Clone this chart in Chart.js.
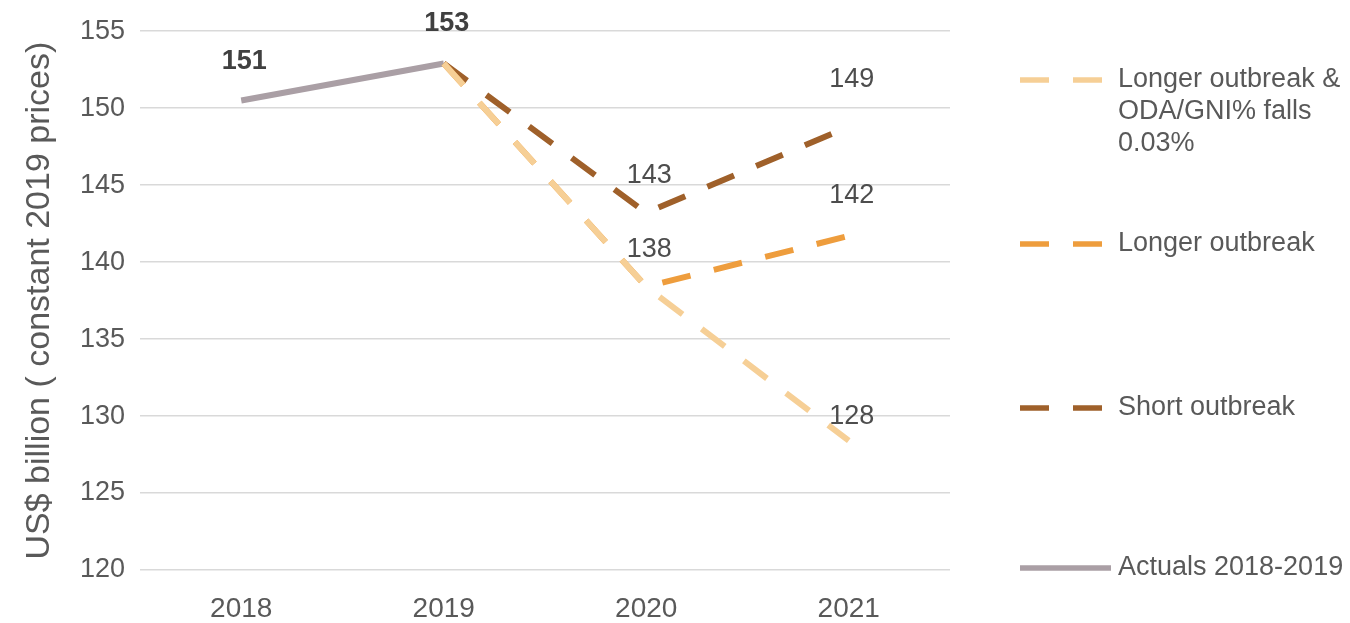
<!DOCTYPE html>
<html>
<head>
<meta charset="utf-8">
<script src="https://cdn.jsdelivr.net/npm/chart.js@4.4.1/dist/chart.umd.min.js"></script>
<style>
  html, body { margin: 0; padding: 0; background: #fff; }
  #wrap { position: relative; width: 1350px; height: 623px; }
</style>
</head>
<body>
<div id="wrap"><canvas id="chart"></canvas></div>
<script>
const years = ['2018', '2019', '2020', '2021'];
const yTickValues = [120, 125, 130, 135, 140, 145, 150, 155];

const seriesNames = ['Longer outbreak & ODA/GNI% falls 0.03%', 'Longer outbreak', 'Short outbreak', 'Actuals 2018-2019'];
const longerOdaFalls = [null, 152.9, 138.4, 128.4];
const longerOutbreak = [null, 152.9, 138.4, 141.7];
const shortOutbreak = [null, 152.9, 143.2, 148.8];
const actuals = [150.5, 152.9, null, null];

const textColor = '#595959';
const font = 'Liberation Sans, Arial, sans-serif';

// which points get a value label, and how far above the line it sits
const valueLabels = [
    { series: 3, index: 0, bold: true, dy: -39 },
    { series: 3, index: 1, bold: true, dy: -40 },
    { series: 2, index: 2, dy: -37 },
    { series: 1, index: 2, dy: -37 },
    { series: 2, index: 3, dy: -47 },
    { series: 1, index: 3, dy: -40 },
    { series: 0, index: 3, dy: -24 },
];

const legendRowY = [80, 244, 408, 568];

const annotate = {
    id: 'annotate',
    afterDatasetsDraw(chart) {
        const { ctx, scales: { x, y } } = chart;
        ctx.save();
        ctx.textAlign = 'center';
        ctx.textBaseline = 'middle';
        valueLabels.forEach(l => {
            const v = chart.data.datasets[l.series].data[l.index];
            ctx.font = (l.bold ? 'bold ' : '') + '27px ' + font;
            ctx.fillStyle = l.bold ? '#404040' : '#4d4d4d';
            ctx.fillText(String(Math.round(v)), x.getPixelForValue(l.index) + 3, y.getPixelForValue(v) + l.dy);
        });

        // legend on the right
        ctx.textAlign = 'left';
        ctx.font = '27px ' + font;
        chart.data.datasets.forEach((ds, i) => {
            const ly = legendRowY[i];
            ctx.strokeStyle = ds.borderColor;
            ctx.lineWidth = 5.5;
            ctx.setLineDash(ds.borderDash || []);
            ctx.beginPath();
            ctx.moveTo(1020, ly);
            ctx.lineTo(1111, ly);
            ctx.stroke();

            // wrap long names
            const words = ds.label.split(' ');
            const lines = [];
            let cur = '';
            words.forEach(w => {
                const test = cur ? cur + ' ' + w : w;
                if (ctx.measureText(test).width > 230 && cur) {
                    lines.push(cur);
                    cur = w;
                } else {
                    cur = test;
                }
            });
            lines.push(cur);
            ctx.fillStyle = textColor;
            lines.forEach((t, k) => ctx.fillText(t, 1118, ly + k * 32));
        });
        ctx.restore();
    }
};

const dash = [29, 24];

new Chart(document.getElementById('chart'), {
    type: 'line',
    data: {
        labels: years,
        datasets: [
            { label: seriesNames[0], data: longerOdaFalls, borderColor: '#f6cf96', borderDash: dash },
            { label: seriesNames[1], data: longerOutbreak, borderColor: '#ee9d3d', borderDash: dash },
            { label: seriesNames[2], data: shortOutbreak, borderColor: '#9f602a', borderDash: dash },
            { label: seriesNames[3], data: actuals, borderColor: '#aa9fa5' },
        ],
    },
    options: {
        responsive: true,
        maintainAspectRatio: false,
        animation: false,
        layout: { padding: { left: 0, right: 400, top: 27, bottom: 0 } },
        elements: {
            line: { borderWidth: 6, tension: 0, borderCapStyle: 'butt' },
            point: { radius: 0, hoverRadius: 0 },
        },
        plugins: {
            legend: { display: false },
            tooltip: { enabled: false },
        },
        scales: {
            x: {
                offset: true,
                grid: { display: false },
                border: { display: false },
                ticks: { color: textColor, font: { family: font, size: 28 }, padding: 14 },
                afterFit: s => { s.height = 53; },
            },
            y: {
                min: yTickValues[0],
                max: yTickValues[yTickValues.length - 1],
                afterBuildTicks: s => { s.ticks = yTickValues.map(v => ({ value: v })); },
                grid: { color: '#d9d9d9', lineWidth: 1.5, drawTicks: false },
                border: { display: false },
                ticks: { color: textColor, font: { family: font, size: 27 }, padding: 15 },
                title: {
                    display: true,
                    text: 'US$ billion ( constant 2019 prices)',
                    color: textColor,
                    font: { family: font, size: 34 },
                    padding: { top: 19, bottom: 0 },
                },
                afterFit: s => { s.width = 140; },
            },
        },
    },
    plugins: [annotate],
});
</script>
</body>
</html>
